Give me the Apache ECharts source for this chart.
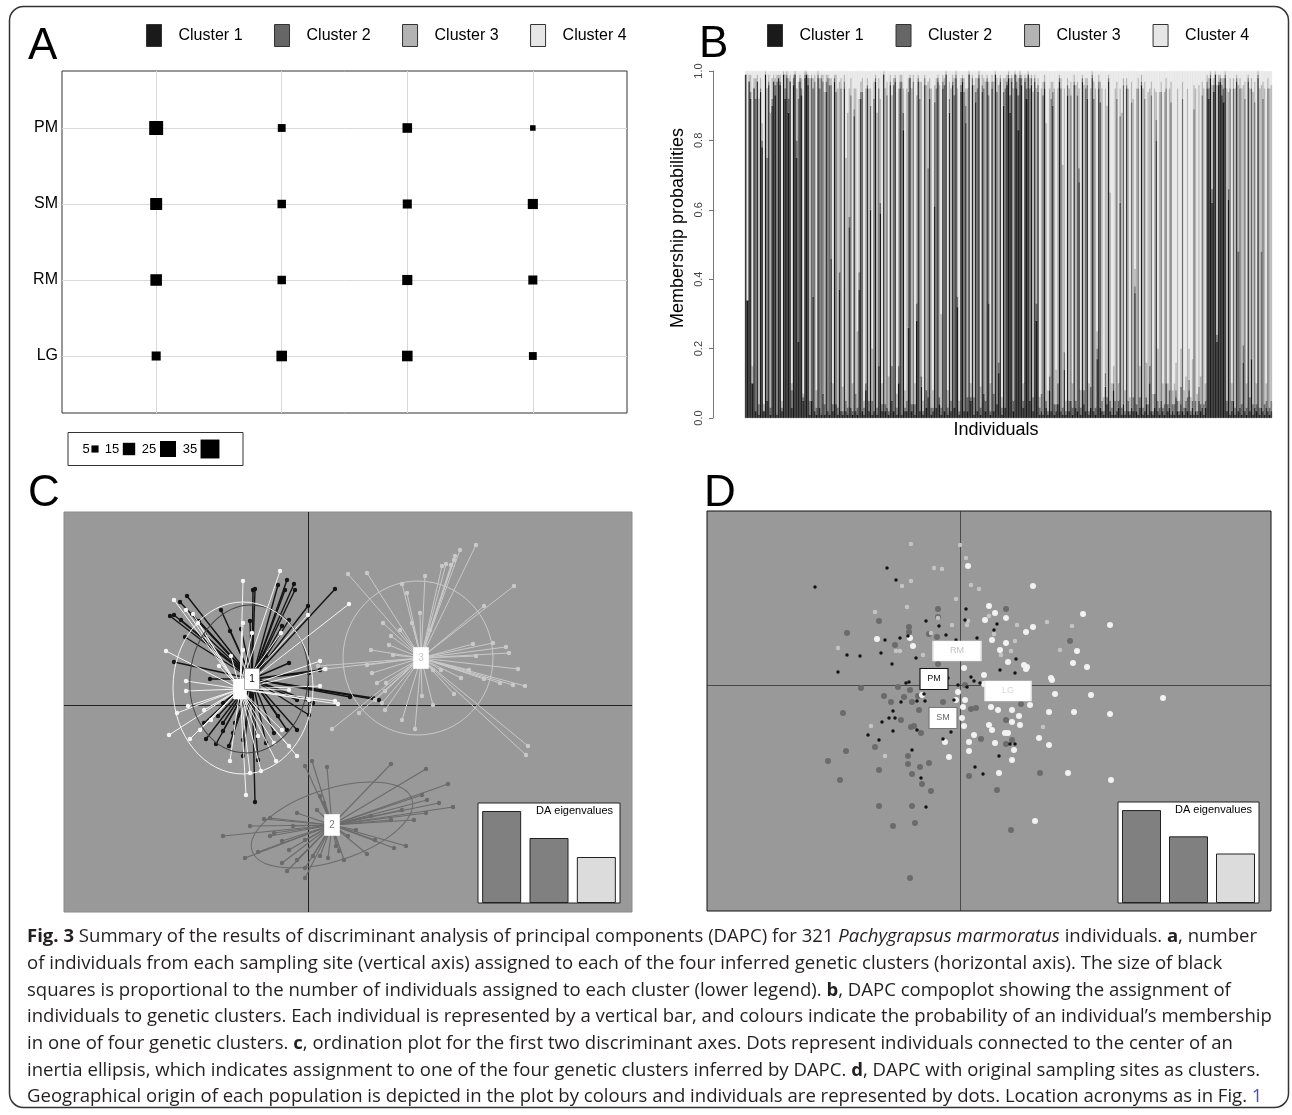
<!DOCTYPE html>
<html><head><meta charset="utf-8">
<script src="https://cdn.jsdelivr.net/npm/echarts@6/dist/echarts.min.js"></script>
<style>html,body{margin:0;padding:0;background:#fff}#main{width:1292px;height:1115px}</style>
</head><body><div id="main"></div>
<script>
// ================= DATA =================
// Panel A: individuals per sampling site (rows) and cluster (columns)
const clusters = ['Cluster 1', 'Cluster 2', 'Cluster 3', 'Cluster 4'];
const sites = ['LG', 'RM', 'SM', 'PM']; // bottom -> top
const countLG = [8, 11, 11, 6];
const countRM = [13, 7, 10, 8];
const countSM = [14, 7, 8, 10];
const countPM = [19, 6, 9, 3];
const sizeLegend = [5, 15, 25, 35];

// Panel B: membership probabilities of 321 individuals
const memb1 = [
0.99,0.34,0.97,0.92,0.10,0.95,0.02,0.97,0.01,0.94,0.78,0.02,0.99,0.05,0.96,0.01,0.90,0.97,0.93,0.01,
0.98,0.96,0.02,0.99,0.92,0.98,0.88,0.97,0.03,0.96,0.99,0.75,0.22,0.97,0.93,0.05,0.98,0.99,0.96,0.01,
0.05,0.35,0.02,0.01,0.98,0.03,0.01,0.07,0.01,0.94,0.02,0.01,0.46,0.02,0.97,0.04,0.01,0.37,0.02,0.01,
0.95,0.02,0.01,0.55,0.03,0.01,0.87,0.02,0.01,0.37,0.92,0.02,0.01,0.08,0.95,0.02,0.60,0.01,0.02,0.97,
0.01,0.15,0.59,0.02,0.99,0.02,0.03,0.01,0.96,0.05,0.02,0.97,0.01,0.10,0.95,0.01,0.83,0.02,0.02,0.26,
0.98,0.02,0.04,0.01,0.28,0.97,0.02,0.09,0.01,0.96,0.03,0.06,0.92,0.01,0.02,0.61,0.03,0.97,0.04,0.01,
0.95,0.02,0.99,0.01,0.88,0.02,0.96,0.03,0.98,0.32,0.01,0.94,0.97,0.02,0.85,0.02,0.99,0.05,0.96,0.01,
0.91,0.02,0.98,0.01,0.94,0.07,0.02,0.97,0.33,0.01,0.95,0.02,0.99,0.04,0.13,0.97,0.01,0.90,0.03,0.96,
0.98,0.88,0.97,0.02,0.99,0.95,0.83,0.98,0.96,0.03,0.97,0.92,0.99,0.05,0.96,0.02,0.97,0.28,0.94,0.01,
0.02,0.01,0.95,0.03,0.01,0.08,0.02,0.90,0.01,0.02,0.04,0.97,0.02,0.01,0.14,0.01,0.93,0.02,0.05,0.01,
0.96,0.03,0.02,0.68,0.01,0.97,0.04,0.02,0.92,0.01,0.03,0.98,0.02,0.01,0.17,0.95,0.03,0.02,0.01,0.09,
0.04,0.97,0.02,0.01,0.08,0.01,0.02,0.03,0.62,0.01,0.04,0.01,0.95,0.02,0.01,0.03,0.02,0.36,0.02,0.01,
0.03,0.96,0.01,0.02,0.04,0.01,0.10,0.02,0.01,0.03,0.80,0.02,0.01,0.05,0.02,0.01,0.10,0.02,0.03,0.01,
0.02,0.01,0.06,0.02,0.01,0.04,0.02,0.01,0.03,0.02,0.08,0.01,0.03,0.01,0.02,0.01,0.05,0.02,0.03,0.01,
0.03,0.95,0.92,0.98,0.62,0.94,0.99,0.22,0.96,0.97,0.93,0.91,0.98,0.02,0.63,0.01,0.02,0.05,0.01,0.97,
0.02,0.03,0.01,0.16,0.02,0.01,0.97,0.02,0.17,0.01,0.03,0.02,0.98,0.01,0.03,0.02,0.01,0.03,0.02,0.01,0.02];
const memb2 = [
0,0,0,0.02,0,0,0.90,0,0.03,0.01,0.02,0,0,0.70,0.01,0.02,0.02,0,0.03,0.96,
0,0.01,0.01,0,0.03,0.01,0.04,0,0.05,0.02,0,0.05,0.70,0.01,0.02,0.01,0.01,0,0.02,0.04,
0.93,0.60,0.95,0.02,0.01,0.92,0.97,0.90,0.03,0.03,0.96,0.95,0.50,0.02,0.01,0.90,0.02,0.05,0.93,0.01,
0.02,0.03,0.02,0.03,0.90,0.01,0.02,0.05,0.02,0.05,0.02,0.92,0.02,0.02,0.01,0.03,0.30,0.04,0.90,0.01,
0.02,0.80,0.03,0.02,0,0.02,0.90,0.01,0.01,0.10,0.94,0.01,0.02,0.05,0.02,0.96,0.05,0.01,0.03,0.68,
0,0.02,0.93,0.03,0.05,0.01,0.90,0.03,0.01,0.02,0.05,0.66,0.03,0.02,0.01,0.30,0.92,0.01,0.02,0.02,
0.02,0.94,0,0.02,0.04,0.03,0.01,0.90,0.01,0.03,0.01,0.02,0.01,0.92,0.05,0.04,0,0.01,0.02,0.05,
0.03,0.93,0.01,0.02,0.02,0.88,0.03,0.01,0.60,0.01,0.02,0.05,0,0.90,0.03,0.01,0.02,0.04,0.92,0.01,
0.01,0.05,0.01,0.03,0,0.02,0.10,0.01,0.02,0.02,0.01,0.03,0,0.90,0.02,0.04,0.01,0.05,0.02,0.02,
0.05,0.92,0.02,0.02,0.01,0.04,0.90,0.04,0.03,0.02,0.06,0.01,0.93,0.02,0.05,0.01,0.03,0.03,0.88,0.02,
0.01,0.02,0.91,0.04,0.02,0.01,0.04,0.93,0.04,0.01,0.06,0.01,0.90,0.02,0.03,0.02,0.88,0.03,0.01,0.04,
0.02,0.01,0.03,0.02,0.02,0.04,0.90,0.02,0.25,0.02,0.92,0.01,0.01,0.03,0.01,0.88,0.04,0.02,0.02,0.94,
0.03,0.01,0.02,0.90,0.02,0.03,0.05,0.91,0.01,0.04,0.06,0.03,0.02,0.89,0.01,0.03,0.85,0.02,0.05,0.90,
0.02,0.03,0.02,0.03,0.01,0.05,0.90,0.02,0.02,0.04,0.03,0.01,0.02,0.88,0.03,0.01,0.04,0.02,0.90,0.03,
0.02,0.02,0.03,0.01,0.04,0.02,0,0.02,0.01,0.01,0.03,0.04,0.01,0.03,0.03,0.94,0.03,0.90,0.02,0.01,
0.46,0.92,0.03,0.05,0.90,0.02,0.01,0.04,0.78,0.03,0.88,0.02,0.01,0.02,0.45,0.90,0.03,0.02,0.93,0.02,0.03];
const memb3 = [
0,0,0.02,0.05,0.05,0.03,0.06,0.02,0.88,0.03,0.05,0.02,0.01,0.20,0.02,0.85,0.06,0.02,0.02,0.02,
0.01,0.02,0.02,0.01,0.04,0.01,0.06,0.02,0.02,0.01,0.01,0.15,0.05,0.01,0.03,0.01,0.01,0.01,0.01,0.93,
0.01,0.03,0.02,0.05,0.01,0.03,0.01,0.02,0.90,0.02,0.01,0.02,0.02,0.06,0.01,0.05,0.92,0.55,0.03,0.07,
0.02,0.70,0.85,0.37,0.05,0.08,0.06,0.88,0.22,0.50,0.03,0.04,0.02,0.85,0.02,0.90,0.05,0.15,0.05,0.01,
0.85,0.03,0.30,0.06,0.01,0.91,0.04,0.10,0.02,0.78,0.02,0.01,0.04,0.80,0.02,0.02,0.07,0.05,0.90,0.04,
0.01,0.91,0.02,0.06,0.60,0.01,0.05,0.85,0.03,0.01,0.88,0.25,0.03,0.92,0.05,0.05,0.03,0.01,0.90,0.27,
0.02,0.02,0.01,0.05,0.05,0.90,0.02,0.05,0.01,0.60,0.03,0.02,0.01,0.04,0.05,0.89,0.01,0.04,0.01,0.90,
0.04,0.03,0.01,0.06,0.03,0.03,0.92,0.01,0.04,0.08,0.02,0.90,0.01,0.04,0.80,0.01,0.03,0.04,0.03,0.02,
0.01,0.05,0.01,0.90,0.01,0.02,0.05,0.01,0.01,0.05,0.01,0.03,0.01,0.03,0.01,0.88,0.01,0.62,0.02,0.03,
0.88,0.04,0.02,0.80,0.06,0.83,0.05,0.03,0.91,0.10,0.85,0.01,0.03,0.70,0.76,0.03,0.02,0.90,0.04,0.07,
0.02,0.91,0.04,0.23,0.05,0.01,0.88,0.03,0.02,0.08,0.86,0.01,0.05,0.92,0.05,0.02,0.06,0.90,0.04,0.82,
0.84,0.01,0.60,0.07,0.05,0.90,0.05,0.05,0.08,0.85,0.02,0.06,0.02,0.90,0.04,0.06,0.86,0.05,0.91,0.03,
0.09,0.02,0.92,0.05,0.10,0.90,0.80,0.04,0.05,0.88,0.08,0.15,0.91,0.03,0.07,0.90,0.03,0.06,0.87,0.06,
0.04,0.06,0.08,0.90,0.03,0.11,0.05,0.05,0.07,0.89,0.09,0.04,0.12,0.07,0.90,0.05,0.87,0.08,0.04,0.91,
0.05,0.02,0.03,0.01,0.30,0.02,0.01,0.72,0.02,0.01,0.02,0.03,0.01,0.90,0.28,0.03,0.05,0.03,0.92,0.01,
0.48,0.03,0.91,0.75,0.05,0.07,0.01,0.89,0.03,0.90,0.06,0.06,0.01,0.92,0.48,0.05,0.91,0.05,0.03,0.92,0.91];
const memb4 = [
0.01,0.66,0.01,0.01,0.85,0.02,0.02,0.01,0.08,0.02,0.15,0.96,0,0.05,0.01,0.12,0.02,0.01,0.02,0.01,
0.01,0.01,0.95,0,0.01,0,0.02,0.01,0.90,0.01,0,0.05,0.03,0.01,0.02,0.93,0,0,0.01,0.02,
0.01,0.02,0.01,0.92,0,0.02,0.01,0.01,0.06,0.01,0.01,0.02,0.02,0.90,0.01,0.01,0.05,0.03,0.02,0.91,
0.01,0.25,0.12,0.05,0.02,0.90,0.05,0.05,0.75,0.08,0.03,0.02,0.95,0.05,0.02,0.05,0.05,0.80,0.03,0.01,
0.12,0.02,0.08,0.90,0,0.05,0.03,0.88,0.01,0.07,0.02,0.01,0.93,0.05,0.01,0.01,0.05,0.92,0.05,0.02,
0.01,0.05,0.01,0.90,0.07,0.01,0.03,0.03,0.95,0.01,0.04,0.03,0.02,0.05,0.92,0.04,0.02,0.01,0.04,0.70,
0.01,0.02,0,0.92,0.03,0.05,0.01,0.02,0,0.05,0.95,0.02,0.01,0.02,0.05,0.05,0,0.90,0.01,0.04,
0.02,0.02,0,0.91,0.01,0.02,0.03,0.01,0.03,0.90,0.01,0.03,0,0.02,0.04,0.01,0.94,0.02,0.02,0.01,
0,0.02,0.01,0.05,0,0.01,0.02,0,0.01,0.90,0.01,0.02,0,0.02,0.01,0.06,0.01,0.05,0.02,0.94,
0.05,0.03,0.01,0.15,0.92,0.05,0.03,0.03,0.05,0.86,0.05,0.01,0.02,0.27,0.05,0.95,0.02,0.05,0.03,0.90,
0.01,0.04,0.03,0.05,0.92,0.01,0.04,0.02,0.02,0.90,0.05,0,0.03,0.05,0.75,0.01,0.03,0.05,0.94,0.05,
0.10,0.01,0.35,0.90,0.85,0.05,0.03,0.90,0.05,0.12,0.02,0.92,0.02,0.05,0.94,0.03,0.08,0.57,0.05,0.02,
0.85,0.01,0.05,0.03,0.84,0.06,0.05,0.03,0.93,0.05,0.06,0.80,0.06,0.03,0.90,0.06,0.02,0.90,0.05,0.03,
0.92,0.90,0.84,0.05,0.95,0.80,0.03,0.92,0.88,0.05,0.80,0.94,0.83,0.04,0.05,0.93,0.04,0.88,0.03,0.05,
0.90,0.01,0.02,0,0.04,0.02,0,0.04,0.01,0.01,0.02,0.02,0,0.05,0.06,0.02,0.90,0.02,0.05,0.01,
0.04,0.02,0.05,0.04,0.03,0.90,0.01,0.05,0.02,0.06,0.03,0.90,0,0.05,0.04,0.03,0.05,0.90,0.02,0.05,0.04];
const probTicks = 0.2;

// Panel C: discriminant scores (DA1, DA2) of individuals per inferred cluster
const centC = [[-5.6, 2.6], [2.4, -12.0], [11.3, 4.7], [-6.8, 1.6]];
const indC1 = [[-12.1,10.9],[-13.8,8.9],[-13.4,9.0],[-12.8,10.3],[-12.7,8.5],[-12.3,6.8],[-11.6,9.1],[-10.9,8.4],[-10.3,7.0],[-8.7,9.5],[-5.5,11.5],[-5.3,11.6],[-3.0,12.0],[-2.1,12.5],[-1.4,12.1],[-2.3,11.5],[-1.3,11.5],[2.7,11.6],[0.0,9.9],[-1.9,8.5],[-2.6,7.9],[-5.8,8.4],[-6.7,7.6],[-7.8,7.4],[-13.4,4.3],[-9.8,2.6],[-8.5,0.2],[-9.0,-1.1],[-10.2,-3.4],[-9.2,-3.9],[-7.9,-4.1],[-8.5,-2.6],[-7.3,-1.8],[-6.5,-3.5],[-4.2,-3.8],[-3.4,-2.8],[-2.1,-2.5],[-1.1,-2.5],[0.1,-1.0],[0.5,0.2],[-1.1,0.5],[0.1,3.2],[1.2,3.5],[-1.9,4.2],[-4.2,4.9],[-5.3,-9.7],[-5.0,-5.5],[-6.5,-5.1],[-7.5,-2.8],[7.1,0.5],[6.5,0.7],[4.2,0.8],[-5.8,0.2],[-8.5,-1.8],[-10.4,-1.8],[-3.0,-1.1],[-5.6,0.9]];
const indC2 = [[0.4,-5.6],[-0.3,-6.1],[1.9,-6.2],[8.3,-5.9],[11.8,-6.4],[14.0,-7.9],[14.5,-10.2],[13.1,-9.8],[11.9,-9.5],[11.4,-9.0],[11.8,-10.8],[10.6,-11.5],[9.8,-14.1],[8.6,-14.3],[5.9,-14.9],[3.6,-15.5],[3.1,-14.6],[2.0,-15.3],[1.2,-15.1],[0.5,-15.1],[-0.3,-16.3],[-0.3,-17.3],[-1.1,-15.5],[-2.1,-16.6],[-2.6,-15.8],[-6.3,-15.3],[-5.0,-14.7],[-3.8,-13.1],[-8.5,-13.1],[-5.8,-12.1],[-4.4,-11.4],[-3.8,-11.3],[-3.4,-12.8],[-1.9,-14.5],[-0.3,-13.5],[0.9,-10.5],[1.2,-9.1],[1.6,-9.8],[-1.1,-10.8],[-1.5,-12.1],[4.8,-12.5],[6.7,-13.5],[8.3,-11.5],[9.4,-10.5],[6.3,-11.1],[2.8,-14.1],[4.0,-13.1],[-2.6,-13.6]];
const indC3 = [[16.8,16.0],[15.2,15.5],[14.7,14.9],[14.6,14.5],[13.8,14.1],[14.3,14.0],[13.4,13.9],[11.7,12.9],[4.0,13.1],[5.9,13.2],[9.4,12.1],[9.9,11.2],[20.6,11.9],[17.6,9.9],[16.5,6.1],[18.5,6.2],[20.1,5.2],[19.8,5.8],[21.0,3.6],[21.7,1.9],[20.5,2.0],[19.2,2.2],[17.6,2.6],[16.1,3.5],[22.0,-4.1],[21.8,-5.0],[14.6,1.1],[12.5,0.0],[10.7,-2.4],[9.4,-1.5],[7.7,-0.5],[7.4,0.2],[2.4,-2.4],[5.1,-0.8],[6.7,0.5],[7.7,1.4],[7.8,2.2],[6.4,3.2],[5.9,4.0],[6.3,5.5],[8.1,6.0],[8.5,5.0],[1.8,3.6],[1.0,3.9],[7.5,8.2],[11.2,9.2],[12.2,7.5],[10.4,8.2],[9.2,7.5],[8.3,6.9],[13.3,3.5],[15.3,2.7],[12.5,3.5],[11.4,0.9],[16.8,4.9],[6.9,2.2]];
const indC4 = [[-2.8,13.4],[-6.5,12.4],[-13.4,10.5],[-12.2,9.5],[-11.5,9.1],[-11.0,8.2],[-14.2,5.4],[-12.2,2.4],[-12.2,1.4],[-13.1,-0.8],[-13.9,-3.0],[-11.8,-3.4],[-10.8,-2.5],[-9.7,-1.5],[-7.8,-5.6],[-6.2,-9.0],[-5.8,-6.8],[-4.7,-6.6],[-3.2,-5.6],[-1.1,-5.1],[-1.9,-4.1],[-3.4,-3.8],[-5.0,-3.1],[-2.6,-2.5],[-6.5,8.2],[-5.6,7.2],[-2.7,7.2],[0.0,9.0],[4.1,10.1],[1.2,4.4],[1.7,3.6],[1.2,1.9],[2.7,0.4],[3.0,0.1],[0.1,0.5],[-1.9,1.5],[-10.4,-0.5],[-12.0,-0.1],[-8.9,3.9],[-7.7,4.9],[-6.5,5.5]];
// inertia ellipses: [cx, cy, rx, ry, angle(deg)] for clusters 1..4
const ellC = [[-5.9, 2.6, 5.9, 7.4, -6], [2.4, -12.0, 8.4, 3.6, 18], [11.0, 4.7, 7.5, 7.7, 0], [-6.5, 1.7, 7.0, 8.6, 0]];
const eigC = [9.2, 6.5, 4.6];

// Panel D: discriminant scores of individuals per original sampling site
const popD = ['PM', 'SM', 'RM', 'LG'];
const centD = [[-2.6, 0.6], [-1.7, -3.3], [-0.3, 3.4], [4.8, -0.6]];
const indPM = [[-14.5,9.8],[-7.3,11.7],[-6.4,10.5],[-11.3,3.0],[-10.0,2.9],[-12.2,1.3],[-7.9,3.2],[-6.8,2.1],[-7.5,4.5],[-6.0,4.7],[-5.2,4.9],[-3.4,6.4],[-2.1,5.9],[-1.4,5.0],[0.6,7.6],[0.5,6.5],[1.7,4.7],[-0.4,4.5],[3.7,6.1],[3.4,5.5],[-4.4,2.7],[-5.1,0.3],[-5.4,0.2],[-3.5,-1.6],[-4.3,-1.6],[-1.2,0.7],[-0.6,-1.5],[-6.7,-2.6],[-7.1,-3.3],[-6.5,-3.3],[-7.8,-3.7],[-6.7,-4.6],[-9.2,-5.0],[-8.1,-5.5],[-4.3,-4.5],[-0.9,-4.7],[-1.7,-5.4],[-4.8,-6.5],[-3.9,-9.3],[-3.4,-12.2],[1.5,-8.2],[2.3,-8.9],[3.9,-7.1],[5.0,-5.9],[5.5,-5.9],[4.0,1.5],[5.6,2.6],[5.5,1.2],[1.1,0.8],[1.4,0.4],[-5.9,-1.7],[-3.6,-0.9],[0.7,-0.2],[2.0,0.2],[-0.2,0.0]];
const indSM = [[-2.2,7.6],[-2.2,6.8],[-8.1,6.4],[-11.3,5.2],[-6.5,4.0],[-5.1,5.8],[-5.1,5.3],[-2.3,4.8],[-3.1,5.1],[-9.9,-0.3],[-7.6,-1.1],[-6.2,-0.2],[-5.6,-1.2],[-4.2,-1.1],[-4.1,-2.5],[-4.8,-1.7],[-6.9,-1.7],[-11.7,-2.8],[-5.9,-3.5],[-4.9,-4.2],[-4.6,-4.1],[-3.9,-4.8],[-8.5,-6.2],[-11.4,-6.6],[-13.2,-7.6],[-12.0,-9.5],[-8.1,-8.5],[-5.2,-7.1],[-5.2,-7.9],[-4.0,-8.2],[-4.8,-8.9],[-3.8,-9.9],[-2.9,-10.6],[-3.1,-7.8],[-8.1,-12.1],[-4.8,-12.1],[-6.7,-14.1],[-4.5,-13.8],[-5.0,-19.3],[3.7,-10.5],[5.1,-14.5],[8.0,-8.8],[0.9,-9.1],[2.1,-5.4],[4.6,-3.5],[4.6,-5.9],[5.2,-5.5],[6.1,-1.9],[11.0,4.4],[4.6,7.6],[4.6,6.7],[0.5,0.0],[-1.7,-1.7],[-2.2,2.1],[-5.0,-0.5],[1.6,-2.3],[1.1,-2.4]];
const indRM = [[-4.9,14.1],[0.0,14.0],[0.6,12.7],[-2.6,11.7],[-1.8,11.6],[-5.8,9.9],[1.1,10.0],[1.9,9.6],[-4.9,10.4],[-5.3,7.8],[-8.5,7.3],[-2.2,6.7],[-0.8,6.0],[0.7,6.0],[-2.9,5.2],[-12.2,3.7],[-6.4,3.4],[-6.0,3.4],[-3.7,3.0],[5.5,4.4],[8.7,6.3],[11.2,5.9],[10.0,3.5],[8.3,-4.2],[-7.5,-7.1],[3.4,5.1],[5.7,6.0],[2.9,6.9],[4.1,3.0],[5.1,3.4],[-8.9,-4.1],[-0.4,8.6],[0.8,6.4]];
const indLG = [[0.8,11.9],[7.3,9.9],[2.9,7.9],[3.5,7.2],[2.5,6.5],[4.6,6.7],[7.3,5.8],[6.6,5.3],[12.3,7.1],[15.0,6.0],[11.7,3.4],[11.3,2.2],[12.7,1.8],[9.1,0.7],[9.2,0.5],[9.5,-0.9],[13.1,-1.0],[8.9,-2.7],[11.4,-2.7],[15.0,-2.9],[20.3,-1.3],[7.0,-2.0],[6.4,2.0],[6.7,1.8],[6.6,1.6],[4.8,2.3],[4.0,3.5],[3.2,4.5],[4.6,4.2],[0.4,1.7],[2.4,1.0],[2.4,0.1],[-0.2,-0.7],[0.3,-2.2],[0.2,-3.3],[0.4,-4.1],[1.4,-5.0],[2.9,-4.0],[3.2,-4.5],[0.9,-5.7],[0.9,-6.6],[3.5,-5.8],[4.5,-4.8],[4.8,-4.8],[6.0,-4.0],[5.9,-3.1],[5.2,-2.5],[3.8,-2.5],[3.1,-2.2],[5.2,-3.7],[7.9,-5.3],[8.9,-6.0],[10.8,-8.8],[15.1,-9.5],[7.5,-13.6],[3.9,-8.8],[-1.1,-7.2],[-1.5,-5.7],[-3.8,-1.0],[-4.7,3.9],[-5.0,4.7],[-8.3,4.6],[5.2,-7.5],[5.4,-6.5],[-0.4,-1.5],[0.5,-1.5]];
const eigD = [9.2, 6.6, 4.9];

// ================= STYLE =================
const FONT = 'Liberation Sans';
const colAB = ['#1a1a1a', '#666666', '#b3b3b3', '#e6e6e6'];
const colC = ['#141414', '#6b6b6b', '#c9c9c9', '#f4f4f4'];
const lwC = [1.4, 1.1, 1, 1];
const ellColC = ['#444444', '#6b6b6b', '#c9c9c9', '#f4f4f4'];
const lblColC = ['#000000', '#777777', '#c9c9c9', '#ffffff'];
const colD = {PM: '#121212', SM: '#6b6b6b', RM: '#c4c4c4', LG: '#f2f2f2'};
const sizeD = {PM: 3.5, SM: 6, RM: 4.5, LG: 6};
const lblD = {PM: {w: 28, h: 21, c: '#111', b: '#111'}, SM: {w: 28, h: 21, c: '#666', b: '#777'}, RM: {w: 48, h: 20, c: '#c4c4c4', b: '#e4e4e4'}, LG: {w: 46, h: 20, c: '#d6d6d6', b: '#eeeeee'}};
const eigCol = ['#808080', '#808080', '#dcdcdc'];
const squareSide = n => 3.2 * Math.sqrt(n);

// ================= BUILD =================
const chart = echarts.init(document.getElementById('main'), null, {renderer: 'canvas', width: 1292, height: 1115});

const tableA = [];
[countLG, countRM, countSM, countPM].forEach((row, si) => row.forEach((n, ci) => tableA.push([ci + 1, si + 1, n])));
const membs = [memb1, memb2, memb3, memb4];
const individuals = memb1.map((_, i) => 'ind' + (i + 1));

function starSeries(k, pts) {
  return {
    type: 'custom', xAxisIndex: 2, yAxisIndex: 2, z: 10 + k, silent: true, clip: true,
    data: pts, encode: {x: 0, y: 1},
    renderItem: function (params, api) {
      const p = api.coord([api.value(0), api.value(1)]);
      const c = api.coord(centC[k]);
      return {type: 'group', children: [
        {type: 'line', shape: {x1: c[0], y1: c[1], x2: p[0], y2: p[1]}, style: {stroke: colC[k], lineWidth: lwC[k]}},
        {type: 'circle', shape: {cx: p[0], cy: p[1], r: 2.2}, style: {fill: colC[k]}}
      ]};
    }
  };
}

function insetBar(idx, data) {
  return {
    type: 'bar', xAxisIndex: idx, yAxisIndex: idx, data: data, barWidth: 39, silent: true, z: 60,
    itemStyle: {color: p => eigCol[p.dataIndex], borderColor: '#222', borderWidth: 1}
  };
}

const series = [];
// --- A
series.push({
  type: 'scatter', xAxisIndex: 0, yAxisIndex: 0, z: 10, silent: true,
  data: tableA, symbol: 'rect', symbolSize: v => squareSide(v[2]),
  itemStyle: {color: '#000', opacity: 1},
  markLine: {
    silent: true, symbol: ['none', 'none'], label: {show: false},
    lineStyle: {color: '#d9d9d9', width: 1, type: 'solid'},
    data: [1, 2, 3, 4].map(v => ({xAxis: v})).concat(sites.map((s, i) => ({yAxis: i + 1})))
  }
});
// --- B
membs.forEach((m, k) => series.push({
  type: 'bar', name: clusters[k], xAxisIndex: 1, yAxisIndex: 1, stack: 'memb', data: m,
  barCategoryGap: '0%', barGap: '0%', silent: true,
  itemStyle: {color: colAB[k], borderColor: colAB[k], borderWidth: 0.5}
}));
// --- C
series.push(starSeries(2, indC3));
series.push(starSeries(1, indC2));
series.push(starSeries(0, indC1));
series.push(starSeries(3, indC4));
series.push({
  type: 'custom', xAxisIndex: 2, yAxisIndex: 2, z: 20, silent: true, clip: true,
  data: ellC, encode: {x: 0, y: 1},
  renderItem: function (params, api) {
    const c = api.coord([api.value(0), api.value(1)]);
    const s = api.size([api.value(2), api.value(3)]);
    return {type: 'ellipse', x: c[0], y: c[1], rotation: api.value(4) * Math.PI / 180,
      shape: {cx: 0, cy: 0, rx: s[0], ry: s[1]},
      style: {fill: 'none', stroke: ellColC[params.dataIndex], lineWidth: 1}};
  }
});
series.push({
  type: 'scatter', xAxisIndex: 2, yAxisIndex: 2, z: 30, silent: true, symbol: 'rect',
  data: [3, 1, 2, 0].map(k => ({value: centC[k], name: String(k + 1), symbolSize: k === 3 ? [13, 20] : [15, 21],
    itemStyle: {color: '#fff', opacity: 1, borderColor: k === 0 ? '#777' : '#fff', borderWidth: 0.6},
    label: {show: true, position: 'inside', formatter: String(k + 1), color: lblColC[k], fontSize: 10, fontFamily: FONT}})),
  markLine: {
    silent: true, symbol: ['none', 'none'], label: {show: false},
    lineStyle: {color: '#222', width: 1, type: 'solid'},
    data: [{xAxis: 0}, {yAxis: 0}]
  }
});
series.push(insetBar(4, eigC));
// --- D
const indD = {PM: indPM, SM: indSM, RM: indRM, LG: indLG};
['SM', 'RM', 'LG', 'PM'].forEach(p => series.push({
  type: 'scatter', name: p, xAxisIndex: 3, yAxisIndex: 3, z: 10, silent: true, data: indD[p],
  symbolSize: sizeD[p], itemStyle: {color: colD[p], opacity: 1}
}));
series.push({
  type: 'scatter', xAxisIndex: 3, yAxisIndex: 3, z: 30, silent: true, symbol: 'rect',
  data: popD.map((p, i) => ({value: centD[i], name: p, symbolSize: [lblD[p].w, lblD[p].h],
    itemStyle: {color: '#fff', opacity: 1, borderColor: lblD[p].b, borderWidth: 1},
    label: {show: true, position: 'inside', formatter: p, color: lblD[p].c, fontSize: 9, fontFamily: FONT}})),
  markLine: {
    silent: true, symbol: ['none', 'none'], label: {show: false},
    lineStyle: {color: '#333', width: 0.8, type: 'solid'},
    data: [{xAxis: 0}, {yAxis: 0}]
  }
});
series.push(insetBar(5, eigD));

// ----- caption text measurement
const capFont = 'Open Sans';
const CAPSIZE = 18;
const capLines = [
  '{b|Fig. 3} Summary of the results of discriminant analysis of principal components (DAPC) for 321 {i|Pachygrapsus marmoratus} individuals. {b|a}, number',
  'of individuals from each sampling site (vertical axis) assigned to each of the four inferred genetic clusters (horizontal axis). The size of black',
  'squares is proportional to the number of individuals assigned to each cluster (lower legend). {b|b}, DAPC compoplot showing the assignment of',
  'individuals to genetic clusters. Each individual is represented by a vertical bar, and colours indicate the probability of an individual\u2019s membership',
  'in one of four genetic clusters. {b|c}, ordination plot for the first two discriminant axes. Dots represent individuals connected to the center of an',
  'inertia ellipsis, which indicates assignment to one of the four genetic clusters inferred by DAPC. {b|d}, DAPC with original sampling sites as clusters.',
  'Geographical origin of each population is depicted in the plot by colours and individuals are represented by dots. Location acronyms as in Fig. {u|1}'
];
const mctx = document.createElement('canvas').getContext('2d');
function measureRich(line) {
  let w = 0;
  const re = /\{(\w)\|([^}]*)\}|([^{]+)/g;
  let m;
  while ((m = re.exec(line)) !== null) {
    let font = CAPSIZE + 'px "' + capFont + '"';
    let t = m[3];
    if (m[1]) {
      t = m[2];
      if (m[1] === 'b') font = 'bold ' + font;
      if (m[1] === 'i') font = 'italic ' + font;
    }
    mctx.font = font;
    w += mctx.measureText(t).width;
  }
  return w;
}
const capScale = 1230 / measureRich(capLines[0]);
const capRich = {
  b: {fontWeight: 'bold', fontSize: CAPSIZE, fontFamily: capFont, fill: '#231f20'},
  i: {fontStyle: 'italic', fontSize: CAPSIZE, fontFamily: capFont, fill: '#231f20'},
  u: {fontSize: CAPSIZE, fontFamily: capFont, fill: '#4a4ad0'}
};

// ----- graphics
const graphics = [];
graphics.push({type: 'rect', silent: true, shape: {x: 9.5, y: 6.5, width: 1279, height: 1101, r: 14}, style: {fill: 'none', stroke: '#333', lineWidth: 1.5}});
[['A', 28, 47], ['B', 699, 45], ['C', 28, 494], ['D', 704, 494]].forEach(([t, x, y]) => graphics.push({
  type: 'text', x: x, y: y, silent: true, style: {text: t, fontSize: 44, fontFamily: FONT, fill: '#000', verticalAlign: 'middle'}
}));
// size legend of panel A
graphics.push({type: 'rect', silent: true, shape: {x: 68, y: 432.5, width: 175, height: 33}, style: {fill: '#fff', stroke: '#333', lineWidth: 1}});
const sizeLegendLayout = [[86, 95], [112, 129], [149, 168], [190, 210]];
sizeLegend.forEach((v, i) => {
  const s = squareSide(v);
  graphics.push({type: 'text', silent: true, x: sizeLegendLayout[i][0], y: 449, style: {text: String(v), fontSize: 13, fontFamily: FONT, fill: '#000', align: 'center', verticalAlign: 'middle'}});
  graphics.push({type: 'rect', silent: true, shape: {x: sizeLegendLayout[i][1] - s / 2, y: 449 - s / 2, width: s, height: s}, style: {fill: '#000'}});
});
// axis titles of panel B
graphics.push({type: 'text', silent: true, x: 678, y: 228, rotation: Math.PI / 2, style: {text: 'Membership probabilities', fontSize: 18, fontFamily: FONT, fill: '#000', align: 'center', verticalAlign: 'middle'}});
graphics.push({type: 'text', silent: true, x: 996, y: 430, style: {text: 'Individuals', fontSize: 18, fontFamily: FONT, fill: '#000', align: 'center', verticalAlign: 'middle'}});
// inset titles
graphics.push({type: 'text', silent: true, z: 100, x: 613, y: 811, style: {text: 'DA eigenvalues', fontSize: 11, fontFamily: FONT, fill: '#000', align: 'right', verticalAlign: 'middle'}});
graphics.push({type: 'text', silent: true, z: 100, x: 1252, y: 810, style: {text: 'DA eigenvalues', fontSize: 11, fontFamily: FONT, fill: '#000', align: 'right', verticalAlign: 'middle'}});
// caption
graphics.push({
  type: 'group', x: 27, y: 937, scaleX: capScale, silent: true,
  children: capLines.map((t, i) => ({type: 'text', x: 0, y: i * 26.7, style: {
    text: t, rich: capRich, fontSize: CAPSIZE, fontFamily: capFont, fill: '#231f20', verticalAlign: 'middle', align: 'left'}}))
});

const hiddenValue = (g, min, max) => ({type: 'value', gridIndex: g, min: min, max: max, show: false, splitLine: {show: false}});

const option = {
  animation: false,
  textStyle: {fontFamily: FONT},
  legend: [
    {data: clusters, left: 146, top: 24, padding: 0, itemGap: 31.5, itemWidth: 15, itemHeight: 22, icon: 'rect',
      itemStyle: {borderColor: '#333', borderWidth: 1}, textStyle: {fontSize: 16, color: '#000', fontFamily: FONT, padding: [0, 0, 0, 12]}, selectedMode: false},
    {data: clusters, left: 767, top: 24, padding: 0, itemGap: 32, itemWidth: 15, itemHeight: 22, icon: 'rect',
      itemStyle: {borderColor: '#333', borderWidth: 1}, textStyle: {fontSize: 16, color: '#000', fontFamily: FONT, padding: [0, 0, 0, 12]}, selectedMode: false}
  ],
  grid: [
    {left: 62, top: 71, width: 565, height: 342, show: true, borderColor: '#333', borderWidth: 1, backgroundColor: 'transparent'},
    {left: 745, top: 71, width: 527, height: 347},
    {left: 64, top: 512, width: 568, height: 400, show: true, backgroundColor: '#999999', borderColor: '#8a8a8a', borderWidth: 1},
    {left: 707, top: 511, width: 564, height: 400, show: true, backgroundColor: '#999999', borderColor: '#111', borderWidth: 1},
    {left: 478, top: 803, width: 142, height: 100, show: true, backgroundColor: '#fff', borderColor: '#222', borderWidth: 1, z: 50},
    {left: 1118, top: 802, width: 141, height: 101, show: true, backgroundColor: '#fff', borderColor: '#222', borderWidth: 1, z: 50}
  ],
  xAxis: [
    hiddenValue(0, 0.25, 4.75),
    {type: 'category', gridIndex: 1, data: individuals, show: false},
    hiddenValue(2, -24.4, 32.4),
    hiddenValue(3, -25.3, 31.1),
    {type: 'category', gridIndex: 4, data: ['DA1', 'DA2', 'DA3'], show: false},
    {type: 'category', gridIndex: 5, data: ['DA1', 'DA2', 'DA3'], show: false}
  ],
  yAxis: [
    {type: 'value', gridIndex: 0, min: 0.25, max: 4.75, axisLine: {show: false}, axisTick: {show: false}, splitLine: {show: false},
      axisLabel: {customValues: [1, 2, 3, 4], formatter: v => sites[Math.round(v) - 1], fontSize: 16, color: '#000', margin: 4, fontFamily: FONT}},
    {type: 'value', gridIndex: 1, min: 0, max: 1, interval: probTicks, offset: 32,
      axisLine: {show: true, lineStyle: {color: '#777', width: 1}}, axisTick: {show: true, length: 4, lineStyle: {color: '#777'}},
      splitLine: {show: false},
      axisLabel: {rotate: 90, fontSize: 11, color: '#444', margin: 9, formatter: v => v.toFixed(1), fontFamily: FONT}},
    hiddenValue(2, -20.7, 19.3),
    hiddenValue(3, -22.6, 17.4),
    hiddenValue(4, 0, 10),
    hiddenValue(5, 0, 10)
  ],
  series: series,
  graphic: {elements: graphics}
};
chart.setOption(option);
</script>
</body></html>
